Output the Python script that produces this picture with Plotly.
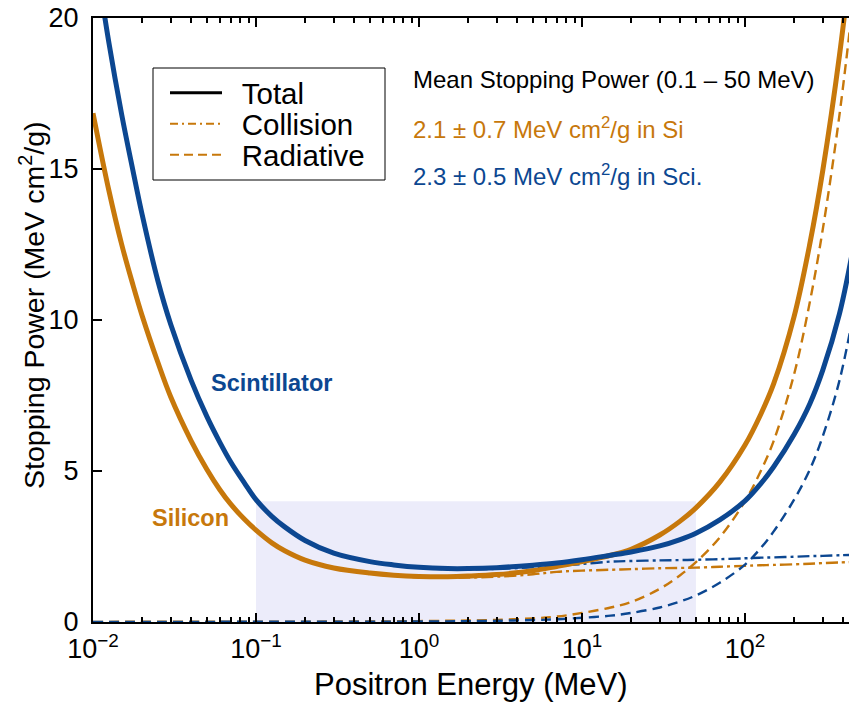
import plotly.graph_objects as go

# ---------------- data ----------------
energy = [0.01, 0.0125, 0.015, 0.0175, 0.02, 0.025, 0.03, 0.04, 0.05, 0.06,
          0.07, 0.085, 0.1, 0.125, 0.15, 0.2, 0.3, 0.5, 0.7, 1,
          1.5, 2, 3, 5, 7, 10, 15, 20, 30, 40,
          50, 70, 100, 125, 150, 200, 250, 300, 380, 470]

si_collision = [16.84, 14.30, 12.49, 11.19, 10.14, 8.59, 7.44, 5.99, 5.04, 4.37,
                3.89, 3.39, 3.03, 2.61, 2.35, 2.04, 1.78, 1.60, 1.53, 1.48,
                1.46, 1.47, 1.50, 1.58, 1.66, 1.70, 1.73, 1.75, 1.78, 1.79,
                1.80, 1.83, 1.86, 1.88, 1.89, 1.91, 1.93, 1.95, 1.97, 1.99]
si_radiative = [0.005, 0.005, 0.006, 0.006, 0.007, 0.007, 0.008, 0.008, 0.009, 0.009,
                0.010, 0.010, 0.011, 0.011, 0.012, 0.013, 0.015, 0.018, 0.022, 0.03,
                0.04, 0.05, 0.07, 0.12, 0.18, 0.30, 0.48, 0.66, 1.10, 1.55,
                1.98, 2.80, 4.0, 5.0, 6.0, 8.2, 10.6, 13.0, 16.8, 21.0]
si_total = [16.85, 14.30, 12.50, 11.20, 10.15, 8.60, 7.45, 6.00, 5.05, 4.38,
            3.90, 3.40, 3.04, 2.62, 2.36, 2.05, 1.79, 1.62, 1.55, 1.51,
            1.50, 1.52, 1.57, 1.70, 1.84, 2.00, 2.21, 2.41, 2.88, 3.34,
            3.78, 4.63, 5.86, 6.88, 7.89, 10.11, 12.53, 14.95, 18.77, 22.99]

sci_collision = [22.60, 19.20, 16.80, 15.00, 13.50, 11.30, 9.85, 8.00, 6.79, 5.94,
                 5.29, 4.59, 4.04, 3.49, 3.14, 2.69, 2.27, 1.99, 1.88, 1.79,
                 1.75, 1.74, 1.76, 1.81, 1.86, 1.92, 2.00, 2.02, 2.04, 2.05,
                 2.06, 2.08, 2.11, 2.13, 2.14, 2.16, 2.18, 2.19, 2.21, 2.22]
sci_radiative = [0.003, 0.003, 0.003, 0.003, 0.004, 0.004, 0.004, 0.005, 0.005, 0.006,
                 0.006, 0.006, 0.006, 0.007, 0.007, 0.008, 0.009, 0.011, 0.013, 0.016,
                 0.022, 0.028, 0.04, 0.065, 0.09, 0.14, 0.21, 0.30, 0.48, 0.68,
                 0.88, 1.30, 1.9, 2.45, 3.0, 4.05, 5.05, 6.15, 8.0, 10.4]
sci_total = [22.60, 19.20, 16.80, 15.00, 13.50, 11.30, 9.85, 8.00, 6.80, 5.95,
             5.30, 4.60, 4.05, 3.50, 3.15, 2.70, 2.28, 2.00, 1.89, 1.81,
             1.77, 1.77, 1.80, 1.88, 1.95, 2.06, 2.21, 2.32, 2.52, 2.73,
             2.94, 3.38, 4.01, 4.58, 5.14, 6.21, 7.23, 8.34, 10.21, 12.62]

band_energy = [0.1, 50]      # mean stopping power window (MeV)
band_height = 4

x_tick_vals = [0.01, 0.1, 1, 10, 100]
x_tick_text = ["10<sup>\u22122</sup>", "10<sup>\u22121</sup>", "10<sup>0</sup>",
               "10<sup>1</sup>", "10<sup>2</sup>"]
x_minor_vals = [k * 10 ** d for d in range(-2, 3) for k in range(2, 10)]
y_tick_vals = [0, 5, 10, 15, 20]

# ---------------- styling ----------------
ORANGE = "#C7780B"
BLUE = "#0C4791"
FONT = "Liberation Sans, Arial, Helvetica, sans-serif"
W, H = 849, 703
L, R, T, B = 93, 0, 18, 81
PW, PH = W - L - R, H - T - B


def px(x):
    return (x - L) / PW


def py(y):
    return (H - B - y) / PH


DASH = "10px,6px"
DASHDOT = "12px,4px,3px,4px"

fig = go.Figure()

series = [
    (si_collision, ORANGE, DASHDOT, 2.4),
    (si_radiative, ORANGE, DASH, 2.4),
    (sci_collision, BLUE, DASHDOT, 2.4),
    (sci_radiative, BLUE, DASH, 2.4),
    (si_total, ORANGE, "solid", 5),
    (sci_total, BLUE, "solid", 5),
]
for ys, col, dash, w in series:
    fig.add_trace(go.Scatter(x=energy, y=ys, mode="lines", showlegend=False,
                             line=dict(color=col, width=w, dash=dash, shape="spline",
                                       smoothing=1.0),
                             hoverinfo="skip"))

# invisible copy on the top (mirror) axis so that axis gets drawn with its ticks
fig.add_trace(go.Scatter(x=energy, y=si_total, xaxis="x2", yaxis="y", mode="lines",
                         line=dict(width=0, color="rgba(0,0,0,0)"), opacity=0,
                         showlegend=False, hoverinfo="skip"))

# legend entries (one small legend per row so the rows sit as tight as the reference)
legend_rows = [
    ("\u2002Total", "black", "solid", 3, "legend", 93),
    ("\u2002Collision", ORANGE, "8px,4px,2px,4px", 2, "legend2", 124),
    ("\u2002Radiative", ORANGE, "9px,5px", 2, "legend3", 155),
]
for name, col, dash, w, lg, _ in legend_rows:
    fig.add_trace(go.Scatter(x=[None], y=[None], mode="lines", name=name, legend=lg,
                             line=dict(color=col, width=w, dash=dash)))

legend_layout = {}
for name, col, dash, w, lg, ycen in legend_rows:
    legend_layout[lg] = dict(x=px(165), y=py(ycen), xanchor="left", yanchor="middle",
                             bgcolor="rgba(0,0,0,0)", borderwidth=0,
                             font=dict(family=FONT, size=29.5, color="black"),
                             itemwidth=52)

# legend frame
fig.add_shape(type="rect", xref="paper", yref="paper",
              x0=px(153), x1=px(385), y0=py(180), y1=py(68),
              fillcolor="white", line=dict(color="black", width=1), layer="below")

fig.add_shape(type="rect", xref="x", yref="y",
              x0=band_energy[0], x1=band_energy[1], y0=0, y1=band_height,
              fillcolor="#ECECFA", line=dict(width=0), layer="below")

axis_common = dict(showline=True, linecolor="black", linewidth=2, ticks="inside",
                   tickcolor="black", tickwidth=1.5, ticklen=9, showgrid=False,
                   zeroline=False, tickfont=dict(family=FONT, size=27, color="black"))
x_range = [-2, -2 + PW / 163.0]
minor_x = dict(tickmode="array", tickvals=x_minor_vals, ticks="inside",
               ticklen=5, tickcolor="black", tickwidth=1.5, showgrid=False)

fig.update_layout(
    xaxis=dict(type="log", range=x_range, tickmode="array", tickvals=x_tick_vals,
               ticktext=x_tick_text, mirror=False, minor=minor_x, ticklabelstandoff=2,
               **axis_common),
    xaxis2=dict(type="log", range=x_range, overlaying="x", side="top", anchor="y",
                tickmode="array", tickvals=x_tick_vals, showticklabels=False,
                minor=minor_x, **axis_common),
    yaxis=dict(range=[0, 20], tickmode="array", tickvals=y_tick_vals, mirror=False,
               ticklabelstandoff=7, **axis_common),
)

annotations = [
    dict(text="Positron Energy (MeV)", x=0.5, y=py(684), size=31, color="black",
         xanchor="center", angle=0),
    dict(text="Stopping Power (MeV cm<sup>2</sup>/g)", x=px(32), y=py(305), size=28.5,
         color="black", xanchor="center", angle=-90),
    dict(text="Mean Stopping Power (0.1 \u2013 50 MeV)", x=px(411), y=py(80), size=24,
         color="black", xanchor="left", angle=0),
    dict(text="2.1 \u00b1 0.7 MeV cm<sup>2</sup>/g in Si", x=px(411), y=py(128), size=24,
         color=ORANGE, xanchor="left", angle=0),
    dict(text="2.3 \u00b1 0.5 MeV cm<sup>2</sup>/g in Sci.", x=px(411), y=py(175), size=24,
         color=BLUE, xanchor="left", angle=0),
    dict(text="<b>Scintillator</b>", x=px(271), y=py(383), size=23.5, color=BLUE,
         xanchor="center", angle=0),
    dict(text="<b>Silicon</b>", x=px(190), y=py(518), size=23.5, color=ORANGE,
         xanchor="center", angle=0),
]
for a in annotations:
    fig.add_annotation(xref="paper", yref="paper", x=a["x"], y=a["y"], text=a["text"],
                       showarrow=False, xanchor=a["xanchor"], yanchor="middle",
                       textangle=a["angle"],
                       font=dict(family=FONT, size=a["size"], color=a["color"]))

fig.update_layout(
    width=W, height=H, margin=dict(l=L, r=R, t=T, b=B, autoexpand=False),
    paper_bgcolor="white", plot_bgcolor="white",
    showlegend=True,
    **legend_layout,
)

fig.write_html(
    "out.html",
    config={"displayModeBar": False},
    post_script="document.body.style.margin='0';document.body.style.padding='0';"
                "document.body.style.overflow='hidden';",
)
